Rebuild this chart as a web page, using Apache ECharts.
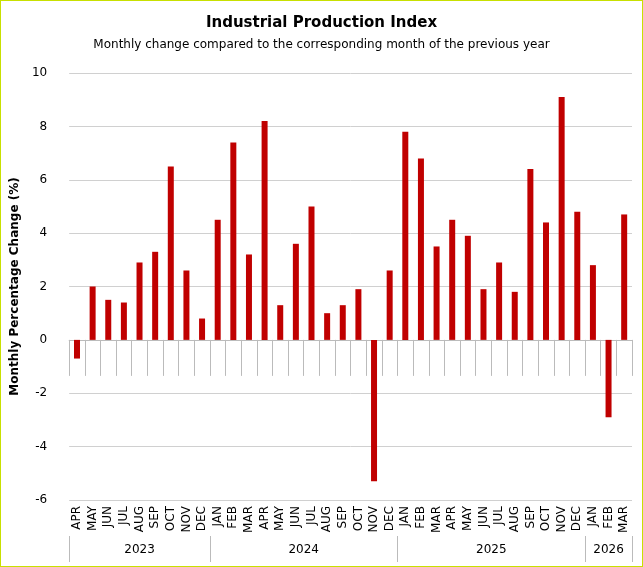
<!DOCTYPE html>
<html>
<head>
<meta charset="utf-8">
<script src="https://cdn.jsdelivr.net/npm/echarts@6/dist/echarts.min.js"></script>
<style>
  html, body { margin: 0; padding: 0; background: #fff; }
  #chart { width: 641px; height: 565px; border: 1px solid #c8e000; }
</style>
</head>
<body>
<div id="chart"></div>
<script>
var months = ['APR','MAY','JUN','JUL','AUG','SEP','OCT','NOV','DEC',
  'JAN','FEB','MAR','APR','MAY','JUN','JUL','AUG','SEP','OCT','NOV','DEC',
  'JAN','FEB','MAR','APR','MAY','JUN','JUL','AUG','SEP','OCT','NOV','DEC',
  'JAN','FEB','MAR'];
var values = [-0.7, 2.0, 1.5, 1.4, 2.9, 3.3, 6.5, 2.6, 0.8,
  4.5, 7.4, 3.2, 8.2, 1.3, 3.6, 5.0, 1.0, 1.3, 1.9, -5.3, 2.6,
  7.8, 6.8, 3.5, 4.5, 3.9, 1.9, 2.9, 1.8, 6.4, 4.4, 9.1, 4.8,
  2.8, -2.9, 4.7];
var years = ['2023', '2024', '2025', '2026'];
var yearLengths = [9, 12, 12, 3];

// half-month slots for the year row: ticks at group edges, labels at group centres
var halfSlots = [];
var edges = {0: true}, centres = {};
var pos = 0;
for (var i = 0; i < years.length; i++) {
  centres[pos + yearLengths[i]] = years[i];
  pos += yearLengths[i] * 2;
  edges[pos] = true;
}
for (var k = 0; k <= pos; k++) halfSlots.push(centres[k] || '');

var font = 'DejaVu Sans';
var chart = echarts.init(document.getElementById('chart'));
chart.setOption({
  textStyle: { fontFamily: font },
  title: {
    text: 'Industrial Production Index',
    subtext: 'Monthly change compared to the corresponding month of the previous year',
    left: 'center', top: 10, itemGap: 8,
    textStyle: { fontSize: 15, fontWeight: 'bold', color: '#000', fontFamily: font },
    subtextStyle: { fontSize: 12, color: '#000', fontFamily: font }
  },
  grid: { left: 61, right: 10, top: 72, bottom: 66 },
  xAxis: [{
    type: 'category',
    data: months,
    axisLine: { show: true, lineStyle: { color: '#bbb' } },
    axisTick: { show: true, length: 36, lineStyle: { color: '#bbb' } },
    axisLabel: { rotate: 90, fontSize: 12, color: '#000', margin: 6 }
  }, {
    type: 'category',
    data: halfSlots,
    boundaryGap: false,
    position: 'bottom',
    offset: 36,
    axisLine: { show: false },
    axisTick: { show: true, length: 26, lineStyle: { color: '#bbb' },
      interval: function (idx) { return !!edges[idx]; } },
    axisLabel: { fontSize: 12, color: '#000', margin: 8,
      interval: function (idx, v) { return v !== ''; } }
  }],
  yAxis: {
    type: 'value',
    min: -6, max: 10, interval: 2,
    name: 'Monthly Percentage Change (%)',
    nameLocation: 'middle', nameGap: 36,
    nameTextStyle: { fontWeight: 'bold', fontSize: 12, color: '#000' },
    axisLabel: { fontSize: 12, color: '#000', margin: 22 },
    splitLine: { lineStyle: { color: '#d0d0d0' } }
  },
  series: [{
    type: 'bar',
    data: values,
    barWidth: 6,
    itemStyle: { color: '#c00000' },
    silent: true
  }],
  animation: false
});
</script>
</body>
</html>
